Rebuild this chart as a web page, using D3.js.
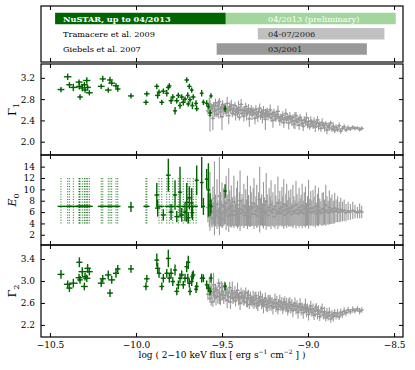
<!DOCTYPE html>
<html>
<head>
<meta charset="utf-8">
<script src="https://cdnjs.cloudflare.com/ajax/libs/d3/7.8.5/d3.min.js"></script>
<style>
  body { margin: 0; background: #fff; }
  svg { font-family: "DejaVu Serif", serif; }
</style>
</head>
<body>
<div id="chart"></div>
<script>
// ---- data -------------------------------------------------------------
var xTicks = [-10.5, -10.0, -9.5, -9.0, -8.5];
var g1Ticks = [2.0, 2.4, 2.8, 3.2];
var e0Ticks = [2, 4, 6, 8, 10, 12, 14];
var g2Ticks = [2.2, 2.6, 3.0, 3.4];

// timeline panel (flux ranges covered by each campaign)
var campaignRows = ["nustar", "tramacere", "giebels"];
var campaignNames = ["NuSTAR, up to 04/2013", "Tramacere et al. 2009", "Giebels et al. 2007"];
var campaignLabels = ["04/2013 (preliminary)", "04-07/2006", "03/2001"];
var campaignStart = [-9.478, -9.292, -9.531];
var campaignEnd = [-8.49, -8.556, -8.658];
var nustarStart = -10.47;
var campaignNameX = -10.424;
var campaignLabelX = -9.232;

// NuSTAR fits (green)
var greenFlux = [-10.436,-10.397,-10.387,-10.364,-10.331,-10.329,-10.325,-10.312,-10.300,-10.296,
  -10.286,-10.281,-10.271,-10.202,-10.193,-10.161,-10.151,-10.141,-10.116,-10.106,
  -10.029,-9.942,-9.937,-9.879,-9.874,-9.866,-9.850,-9.841,-9.821,-9.812,
  -9.806,-9.796,-9.786,-9.773,-9.763,-9.754,-9.744,-9.734,-9.725,-9.715,
  -9.705,-9.699,-9.696,-9.690,-9.686,-9.676,-9.672,-9.667,-9.651,-9.647,
  -9.618,-9.608,-9.589,-9.579,-9.569,-9.564,-9.482];
var greenFluxErr = [0.020,0.022,0.018,0.025,0.020,0.018,0.016,0.022,0.020,0.018,
  0.021,0.019,0.020,0.020,0.018,0.019,0.017,0.020,0.018,0.016,
  0.017,0.015,0.016,0.014,0.015,0.013,0.014,0.015,0.013,0.014,
  0.012,0.014,0.013,0.012,0.014,0.013,0.012,0.013,0.014,0.012,
  0.013,0.011,0.012,0.013,0.012,0.011,0.012,0.013,0.011,0.012,
  0.011,0.010,0.011,0.010,0.011,0.010,0.010];
var greenG1 = [2.98,3.22,3.07,3.02,3.12,3.04,2.84,3.01,3.07,2.97,
  3.15,3.02,2.92,3.04,3.18,2.97,3.16,3.10,3.05,2.99,
  2.86,2.74,2.90,3.04,2.87,2.93,2.74,2.95,2.91,3.02,
  3.05,2.77,2.84,2.58,2.77,2.87,2.68,2.84,2.74,2.80,
  3.16,2.87,2.71,3.04,2.79,2.97,2.68,2.84,2.72,2.62,
  2.91,2.74,2.72,2.66,2.54,2.86,2.62];
var greenG1Err = [0.05,0.06,0.05,0.07,0.05,0.06,0.05,0.06,0.05,0.05,
  0.06,0.05,0.05,0.05,0.06,0.05,0.06,0.05,0.05,0.05,
  0.05,0.05,0.05,0.05,0.06,0.05,0.05,0.05,0.06,0.05,
  0.05,0.06,0.05,0.07,0.05,0.05,0.06,0.05,0.06,0.05,
  0.05,0.06,0.05,0.05,0.06,0.05,0.07,0.05,0.06,0.05,
  0.06,0.05,0.06,0.05,0.06,0.05,0.06];
// null = E0 frozen at 7 keV (allowed range 4-12 drawn dotted)
var greenE0 = [null,null,null,null,null,null,null,null,null,null,
  null,null,null,null,null,null,null,null,null,null,
  6.9,null,null,9.0,6.7,null,null,5.5,null,12.5,
  null,6.0,null,9.0,5.2,null,9.5,5.5,null,6.0,
  7.7,null,5.0,8.5,null,7.6,5.9,null,null,11.6,
  11.2,7.0,11.8,9.9,7.3,7.0,9.7];
var greenE0Err = [0,0,0,0,0,0,0,0,0,0,
  0,0,0,0,0,0,0,0,0,0,
  0.9,0,0,2.1,1.5,0,0,1.0,0,2.9,
  0,1.4,0,2.6,1.0,0,4.5,1.2,0,1.6,
  3.4,0,1.0,2.0,0,2.6,1.3,0,0,2.6,
  4.5,1.5,1.8,4.7,2.0,1.2,1.2];
var greenG2 = [3.12,2.94,2.87,2.96,3.06,3.34,3.02,3.17,2.90,3.08,
  3.05,3.23,3.17,2.96,3.04,3.11,2.78,3.02,3.14,3.22,
  3.22,2.90,3.04,3.38,3.23,3.14,2.90,3.05,3.14,3.41,
  3.05,3.14,2.99,3.20,2.81,2.93,3.05,3.11,2.93,3.05,
  3.26,3.05,3.34,2.96,2.81,2.99,3.08,3.11,2.85,2.90,
  3.05,3.05,2.93,2.87,2.81,3.05,2.90];
var greenG2Err = [0.08,0.07,0.07,0.08,0.07,0.09,0.07,0.08,0.07,0.07,
  0.07,0.08,0.07,0.07,0.07,0.08,0.07,0.07,0.08,0.07,
  0.07,0.07,0.07,0.12,0.10,0.08,0.07,0.08,0.08,0.16,
  0.08,0.09,0.08,0.10,0.07,0.08,0.09,0.08,0.07,0.08,
  0.10,0.08,0.12,0.08,0.07,0.08,0.09,0.08,0.07,0.08,
  0.08,0.07,0.08,0.07,0.07,0.08,0.07];
var FIXED_E0 = 7;
var FIXED_E0_RANGE = [4, 12];

// earlier campaigns (grey)
var grayFlux = [-9.582,-9.574,-9.570,-9.563,-9.559,-9.553,-9.549,-9.544,-9.538,-9.535,
  -9.529,-9.524,-9.519,-9.515,-9.509,-9.504,-9.500,-9.496,-9.490,-9.485,
  -9.481,-9.476,-9.470,-9.466,-9.461,-9.455,-9.451,-9.446,-9.440,-9.436,
  -9.431,-9.425,-9.421,-9.415,-9.410,-9.404,-9.399,-9.395,-9.389,-9.384,
  -9.378,-9.373,-9.368,-9.362,-9.357,-9.352,-9.346,-9.341,-9.335,-9.330,
  -9.325,-9.319,-9.314,-9.308,-9.303,-9.298,-9.292,-9.287,-9.281,-9.276,
  -9.270,-9.265,-9.259,-9.254,-9.248,-9.243,-9.237,-9.232,-9.226,-9.220,
  -9.215,-9.209,-9.204,-9.198,-9.192,-9.187,-9.181,-9.175,-9.170,-9.164,
  -9.158,-9.152,-9.147,-9.141,-9.135,-9.129,-9.124,-9.118,-9.112,-9.106,
  -9.100,-9.094,-9.088,-9.082,-9.076,-9.070,-9.064,-9.058,-9.052,-9.046,
  -9.040,-9.034,-9.028,-9.022,-9.015,-9.009,-9.003,-8.997,-8.990,-8.984,
  -8.978,-8.971,-8.965,-8.958,-8.952,-8.945,-8.939,-8.932,-8.925,-8.918,
  -8.911,-8.904,-8.897,-8.890,-8.883,-8.876,-8.868,-8.861,-8.853,-8.845,
  -8.837,-8.828,-8.819,-8.810,-8.800,-8.790,-8.779,-8.767,-8.754,-8.740,
  -8.727,-8.713,-8.700,-8.688];
var GRAY_FLUX_ERR = 0.012;
var grayG1 = [2.58,2.71,2.49,2.66,2.62,2.44,2.69,2.57,2.73,2.60,
  2.52,2.67,2.61,2.75,2.56,2.64,2.47,2.70,2.59,2.66,
  2.63,2.54,2.72,2.58,2.49,2.66,2.60,2.69,2.53,2.62,
  2.57,2.68,2.51,2.61,2.55,2.64,2.46,2.59,2.70,2.53,
  2.60,2.48,2.58,2.66,2.52,2.55,2.62,2.43,2.57,2.61,
  2.50,2.58,2.54,2.44,2.61,2.52,2.47,2.56,2.63,2.49,
  2.55,2.46,2.59,2.50,2.42,2.53,2.57,2.48,2.51,2.60,
  2.45,2.52,2.40,2.55,2.48,2.43,2.51,2.57,2.46,2.39,
  2.47,2.42,2.50,2.36,2.44,2.53,2.41,2.46,2.35,2.48,
  2.43,2.38,2.46,2.33,2.40,2.49,2.37,2.42,2.31,2.45,
  2.40,2.34,2.29,2.41,2.36,2.45,2.32,2.38,2.28,2.39,
  2.35,2.30,2.38,2.27,2.34,2.41,2.29,2.33,2.25,2.36,
  2.31,2.26,2.34,2.22,2.30,2.27,2.35,2.24,2.29,2.21,
  2.27,2.23,2.30,2.20,2.25,2.28,2.22,2.26,2.24,2.27,
  2.25,2.26,2.23,2.25];
var grayG1Err = [0.07,0.12,0.30,0.06,0.09,0.22,0.05,0.10,0.08,0.14,
  0.06,0.09,0.18,0.07,0.11,0.05,0.25,0.08,0.10,0.06,
  0.09,0.07,0.12,0.05,0.16,0.08,0.06,0.10,0.07,0.09,
  0.08,0.06,0.11,0.07,0.09,0.13,0.06,0.08,0.10,0.07,
  0.06,0.10,0.08,0.07,0.12,0.06,0.09,0.15,0.07,0.08,
  0.09,0.07,0.06,0.11,0.08,0.07,0.10,0.06,0.09,0.08,
  0.07,0.12,0.08,0.06,0.20,0.09,0.07,0.08,0.06,0.10,
  0.08,0.06,0.14,0.07,0.09,0.06,0.08,0.11,0.07,0.09,
  0.06,0.08,0.07,0.10,0.06,0.09,0.07,0.06,0.12,0.08,
  0.07,0.09,0.06,0.08,0.16,0.07,0.08,0.06,0.09,0.07,
  0.08,0.06,0.09,0.07,0.06,0.10,0.07,0.08,0.06,0.09,
  0.07,0.06,0.08,0.09,0.06,0.07,0.08,0.06,0.07,0.08,
  0.06,0.07,0.05,0.08,0.06,0.07,0.05,0.06,0.07,0.05,
  0.06,0.05,0.06,0.05,0.04,0.05,0.04,0.05,0.04,0.04,
  0.04,0.03,0.04,0.04];
var grayE0 = [6.8,5.2,7.9,6.1,4.9,7.0,5.8,8.4,6.3,5.5,
  7.4,6.0,5.1,8.8,6.5,5.7,7.2,4.8,6.9,6.2,
  5.9,7.6,6.4,5.3,8.1,6.7,5.6,7.0,6.1,5.4,
  7.8,6.2,5.5,6.9,7.3,5.0,6.6,8.0,5.8,6.4,
  6.0,7.1,5.4,6.8,5.9,7.7,6.3,5.2,7.0,6.5,
  5.7,6.9,7.5,5.6,6.2,7.0,5.3,6.6,8.2,6.0,
  6.4,5.5,7.2,6.1,5.8,7.9,6.3,5.4,6.8,6.2,
  7.3,5.9,6.5,5.2,7.0,6.3,5.7,7.6,6.0,6.6,
  5.8,6.9,6.2,7.4,5.5,6.4,7.1,5.9,6.6,6.1,
  6.7,5.6,7.0,6.2,5.9,7.3,6.4,5.7,6.8,6.0,
  6.3,7.1,5.8,6.5,6.9,5.6,6.2,7.4,6.0,6.6,
  5.9,6.7,6.2,7.0,5.7,6.4,6.9,6.1,5.8,6.5,
  6.6,6.0,7.2,6.3,5.9,6.8,6.2,6.5,6.0,6.7,
  6.2,6.5,6.0,6.4,6.1,6.3,5.9,6.2,6.0,6.3,
  6.1,5.9,6.2,6.0];
var grayE0Err = [2.6,1.8,5.2,2.3,1.6,3.5,2.0,6.5,2.8,1.9,
  4.4,2.1,1.7,6.9,3.0,2.2,4.0,1.5,3.3,2.4,
  2.0,4.8,2.7,1.8,5.6,3.1,2.2,3.7,2.5,1.9,
  4.6,2.6,2.0,3.4,4.2,1.6,2.9,5.3,2.3,2.8,
  2.4,3.9,1.9,3.2,2.3,4.7,2.7,1.8,3.6,3.0,
  2.1,3.3,4.5,2.0,2.6,3.8,1.9,2.9,5.8,2.4,
  2.7,2.0,4.1,2.5,2.2,5.0,2.8,1.9,3.4,2.6,
  4.3,2.2,3.0,1.8,3.9,2.6,2.1,4.6,2.3,3.1,
  2.1,3.5,2.6,4.4,2.0,2.8,3.9,2.2,3.2,2.5,
  3.3,2.0,3.8,2.6,2.2,4.2,2.8,2.1,3.5,2.4,
  2.7,3.9,2.2,3.0,3.6,2.0,2.6,4.3,2.3,3.1,
  2.2,3.2,2.5,3.7,2.0,2.8,3.4,2.3,2.1,2.9,
  2.9,2.2,3.6,2.5,2.1,3.0,2.3,2.6,2.0,2.7,
  2.0,2.3,1.8,2.1,1.7,1.9,1.5,1.6,1.4,1.5,
  1.2,1.0,1.3,1.1];
var grayG2 = [2.76,2.90,2.68,2.85,2.79,2.62,2.93,2.74,2.87,2.70,
  2.83,2.72,2.96,2.78,2.66,2.88,2.75,2.81,2.69,2.91,
  2.74,2.84,2.65,2.79,2.71,2.88,2.62,2.77,2.82,2.68,
  2.70,2.79,2.64,2.75,2.83,2.67,2.72,2.60,2.78,2.69,
  2.73,2.63,2.70,2.78,2.61,2.67,2.74,2.57,2.69,2.65,
  2.62,2.70,2.58,2.66,2.73,2.60,2.55,2.68,2.63,2.71,
  2.58,2.66,2.54,2.62,2.69,2.57,2.52,2.64,2.60,2.67,
  2.55,2.62,2.51,2.59,2.66,2.53,2.60,2.48,2.57,2.63,
  2.53,2.60,2.49,2.57,2.62,2.51,2.58,2.46,2.55,2.61,
  2.50,2.57,2.46,2.54,2.59,2.48,2.55,2.43,2.52,2.58,
  2.47,2.53,2.42,2.50,2.56,2.44,2.51,2.39,2.48,2.54,
  2.43,2.49,2.38,2.46,2.52,2.40,2.47,2.35,2.44,2.50,
  2.38,2.44,2.33,2.41,2.36,2.43,2.31,2.39,2.35,2.42,
  2.37,2.41,2.35,2.43,2.39,2.45,2.42,2.47,2.44,2.48,
  2.46,2.49,2.45,2.47];
var grayG2Err = [0.10,0.18,0.08,0.30,0.12,0.09,0.22,0.11,0.08,0.14,
  0.09,0.13,0.08,0.20,0.10,0.12,0.09,0.16,0.11,0.08,
  0.12,0.09,0.14,0.08,0.11,0.10,0.13,0.09,0.17,0.10,
  0.09,0.12,0.10,0.08,0.14,0.11,0.09,0.13,0.10,0.12,
  0.11,0.08,0.13,0.10,0.09,0.15,0.10,0.08,0.12,0.09,
  0.10,0.12,0.09,0.14,0.08,0.11,0.10,0.13,0.09,0.11,
  0.09,0.11,0.13,0.08,0.10,0.12,0.09,0.11,0.14,0.08,
  0.10,0.09,0.12,0.08,0.11,0.10,0.13,0.09,0.10,0.12,
  0.08,0.11,0.09,0.12,0.10,0.08,0.11,0.09,0.13,0.10,
  0.09,0.10,0.12,0.08,0.11,0.09,0.10,0.12,0.08,0.11,
  0.10,0.08,0.11,0.09,0.12,0.10,0.08,0.11,0.09,0.10,
  0.08,0.10,0.09,0.11,0.08,0.10,0.09,0.08,0.10,0.09,
  0.08,0.09,0.07,0.10,0.08,0.09,0.07,0.08,0.09,0.07,
  0.07,0.08,0.06,0.07,0.06,0.07,0.06,0.06,0.05,0.06,
  0.05,0.05,0.06,0.05];

// ---- layout -----------------------------------------------------------
var width = 415, height = 370;
var margin = {left: 41, right: 12};
var GREEN = "#006400", LIGHT_GREEN = "#a3d69d", GRAY = "#999999";
var TICK = 4;

var svg = d3.select("#chart").append("svg")
    .attr("width", width)
    .attr("height", height);

var xScale = d3.scaleLinear()
    .domain([-10.552, -8.448])
    .range([margin.left, width - margin.right]);

var fmt1 = d3.format(".1f");

function xAxes(g, top, bottom, labels) {
  g.append("g")
    .attr("class", "axis")
    .attr("transform", "translate(0," + bottom + ")")
    .call(d3.axisBottom(xScale).tickValues(xTicks).tickSize(-TICK).tickPadding(5)
      .tickFormat(labels ? fmt1 : ""));
  g.append("g")
    .attr("class", "axis")
    .attr("transform", "translate(0," + top + ")")
    .call(d3.axisTop(xScale).tickValues(xTicks).tickSize(-TICK).tickFormat(""));
}

function frame(g, top, bottom) {
  g.append("rect")
    .attr("x", xScale.range()[0])
    .attr("y", top)
    .attr("width", xScale.range()[1] - xScale.range()[0])
    .attr("height", bottom - top)
    .attr("fill", "none")
    .attr("stroke", "#000")
    .attr("stroke-width", 1.2);
}

// ---- timeline panel ---------------------------------------------------
var tl = svg.append("g");
var rowY = d3.scalePoint().domain(campaignRows).range([18.5, 49]);
var BAR_H = 11.5;

tl.append("rect")
  .attr("x", xScale(nustarStart))
  .attr("y", rowY("nustar") - BAR_H / 2)
  .attr("width", xScale(campaignStart[0]) - xScale(nustarStart))
  .attr("height", BAR_H)
  .attr("fill", GREEN);

var campColors = [LIGHT_GREEN, "#c0c0c0", "#999999"];
tl.selectAll(".camp")
  .data(campaignRows)
  .enter().append("rect")
  .attr("class", "camp")
  .attr("x", function(d, i) { return xScale(campaignStart[i]); })
  .attr("y", function(d) { return rowY(d) - BAR_H / 2; })
  .attr("width", function(d, i) { return xScale(campaignEnd[i]) - xScale(campaignStart[i]); })
  .attr("height", BAR_H)
  .attr("fill", function(d, i) { return campColors[i]; });

tl.selectAll(".campName")
  .data(campaignRows)
  .enter().append("text")
  .attr("class", "campName")
  .attr("x", xScale(campaignNameX))
  .attr("y", function(d) { return rowY(d) + 3; })
  .attr("font-size", 8.2)
  .attr("font-weight", function(d, i) { return i === 0 ? "bold" : "normal"; })
  .attr("fill", function(d, i) { return i === 0 ? "#fff" : "#000"; })
  .text(function(d, i) { return campaignNames[i]; });

tl.selectAll(".campLabel")
  .data(campaignRows)
  .enter().append("text")
  .attr("class", "campLabel")
  .attr("x", xScale(campaignLabelX))
  .attr("y", function(d) { return rowY(d) + 3; })
  .attr("font-size", 8.2)
  .attr("fill", function(d, i) { return i === 0 ? "#fff" : "#222"; })
  .text(function(d, i) { return campaignLabels[i]; });

xAxes(tl, 6, 62, false);
frame(tl, 6, 62);

// ---- spectral panels --------------------------------------------------
var greenData = greenFlux.map(function(f, i) {
  return {x: f, xe: greenFluxErr[i], g1: greenG1[i], g1e: greenG1Err[i],
    e0: greenE0[i], e0e: greenE0Err[i], g2: greenG2[i], g2e: greenG2Err[i]};
});
var grayData = grayFlux.map(function(f, i) {
  return {x: f, xe: GRAY_FLUX_ERR, g1: grayG1[i], g1e: grayG1Err[i],
    e0: grayE0[i], e0e: grayE0Err[i], g2: grayG2[i], g2e: grayG2Err[i]};
});

var panels = [
  {key: "g1", top: 64, bottom: 155, domain: [1.75, 3.46], ticks: g1Ticks, fmt: fmt1, label: ["\u0393", "1"], italic: false},
  {key: "e0", top: 155, bottom: 245, domain: [0.2, 16.05], ticks: e0Ticks, fmt: d3.format("d"), label: ["E", "0"], italic: true},
  {key: "g2", top: 245, bottom: 337, domain: [1.98, 3.655], ticks: g2Ticks, fmt: fmt1, label: ["\u0393", "2"], italic: false}
];

function errorbars(g, data, yScale, key, color, lw, r, cls) {
  var sel = g.selectAll("." + cls)
    .data(data.filter(function(d) { return d[key] !== null; }))
    .enter().append("g")
    .attr("class", cls);
  sel.append("line")
    .attr("x1", function(d) { return xScale(d.x); })
    .attr("x2", function(d) { return xScale(d.x); })
    .attr("y1", function(d) { return yScale(d[key] - d[key + "e"]); })
    .attr("y2", function(d) { return yScale(d[key] + d[key + "e"]); })
    .attr("stroke", color).attr("stroke-width", lw);
  sel.append("line")
    .attr("x1", function(d) { return xScale(d.x - d.xe); })
    .attr("x2", function(d) { return xScale(d.x + d.xe); })
    .attr("y1", function(d) { return yScale(d[key]); })
    .attr("y2", function(d) { return yScale(d[key]); })
    .attr("stroke", color).attr("stroke-width", lw);
  sel.append("circle")
    .attr("cx", function(d) { return xScale(d.x); })
    .attr("cy", function(d) { return yScale(d[key]); })
    .attr("r", r)
    .attr("fill", color);
}

panels.forEach(function(p, pi) {
  var g = svg.append("g");
  var yScale = d3.scaleLinear().domain(p.domain).range([p.bottom, p.top]);

  g.append("clipPath").attr("id", "clip" + pi)
    .append("rect")
    .attr("x", xScale.range()[0]).attr("y", p.top)
    .attr("width", xScale.range()[1] - xScale.range()[0])
    .attr("height", p.bottom - p.top);

  var plot = g.append("g").attr("clip-path", "url(#clip" + pi + ")");

  errorbars(plot, grayData, yScale, p.key, GRAY, 1.1, 1.2, "gray");

  if (p.key === "e0") {
    // frozen E0: dotted allowed range + flux bar at 7 keV
    var fixed = greenData.filter(function(d) { return d.e0 === null; });
    plot.selectAll(".fixed")
      .data(fixed)
      .enter().append("line")
      .attr("class", "fixed")
      .attr("x1", function(d) { return xScale(d.x); })
      .attr("x2", function(d) { return xScale(d.x); })
      .attr("y1", yScale(FIXED_E0_RANGE[0]))
      .attr("y2", yScale(FIXED_E0_RANGE[1]))
      .attr("stroke", GREEN).attr("stroke-width", 0.9)
      .attr("stroke-dasharray", "1,1.6");
    plot.selectAll(".fixedh")
      .data(fixed)
      .enter().append("line")
      .attr("class", "fixedh")
      .attr("x1", function(d) { return xScale(d.x - d.xe); })
      .attr("x2", function(d) { return xScale(d.x + d.xe); })
      .attr("y1", yScale(FIXED_E0))
      .attr("y2", yScale(FIXED_E0))
      .attr("stroke", GREEN).attr("stroke-width", 1.4);
  }

  errorbars(plot, greenData, yScale, p.key, GREEN, 1.4, 1, "green");

  // axes
  xAxes(g, p.top, p.bottom, pi === panels.length - 1);
  g.append("g")
    .attr("class", "axis")
    .attr("transform", "translate(" + xScale.range()[0] + ",0)")
    .call(d3.axisLeft(yScale).tickValues(p.ticks).tickSize(-TICK).tickPadding(6).tickFormat(p.fmt));
  g.append("g")
    .attr("class", "axis")
    .attr("transform", "translate(" + xScale.range()[1] + ",0)")
    .call(d3.axisRight(yScale).tickValues(p.ticks).tickSize(-TICK).tickFormat(""));
  frame(g, p.top, p.bottom);

  // y label
  var lab = g.append("text")
    .attr("transform", "translate(16," + ((p.top + p.bottom) / 2) + ") rotate(-90)")
    .attr("text-anchor", "middle")
    .attr("font-size", 11);
  lab.append("tspan")
    .attr("font-style", p.italic ? "italic" : "normal")
    .text(p.label[0]);
  lab.append("tspan")
    .attr("font-size", 8)
    .attr("dy", 3)
    .text(p.label[1]);
});

svg.selectAll(".axis").attr("font-size", 9).attr("font-family", "DejaVu Serif, serif");
svg.selectAll(".axis .domain").remove();
svg.selectAll(".axis line").attr("stroke", "#000").attr("stroke-width", 1);

// x label
var xl = svg.append("text")
  .attr("x", (xScale.range()[0] + xScale.range()[1]) / 2)
  .attr("y", 358)
  .attr("text-anchor", "middle")
  .attr("font-size", 9);
xl.append("tspan").text("log ( 2\u221210 keV flux [ erg s");
xl.append("tspan").attr("font-size", 6).attr("dy", -4).text("\u22121");
xl.append("tspan").attr("dy", 4).text(" cm");
xl.append("tspan").attr("font-size", 6).attr("dy", -4).text("\u22122");
xl.append("tspan").attr("dy", 4).text(" ] )");
</script>
</body>
</html>
